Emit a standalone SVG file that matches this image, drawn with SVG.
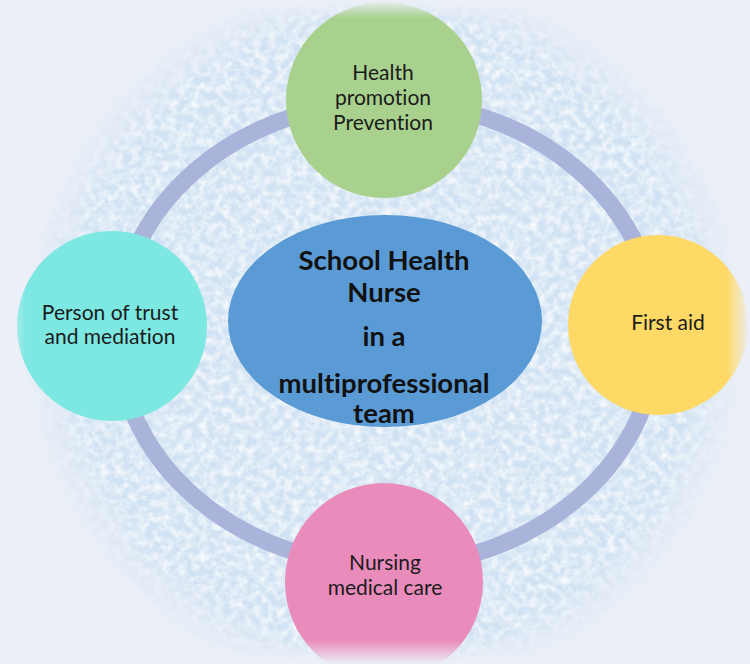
<svg xmlns="http://www.w3.org/2000/svg" width="750" height="664" viewBox="0 0 750 664">
  <defs>
    <style>
      .lbl { font-family: Lato, "Open Sans", "Liberation Sans", sans-serif; font-size: 21px; fill: #1b1b1b; text-anchor: middle; font-variant-ligatures: none; }
      .ctr { font-family: Lato, "Open Sans", "Liberation Sans", sans-serif; font-size: 27.5px; font-weight: bold; fill: #111; text-anchor: middle; font-variant-ligatures: none; }
      .ring { fill: none; stroke: #aab3da; stroke-width: 17; }
    </style>
    <radialGradient id="diskGrad" gradientUnits="userSpaceOnUse" cx="385" cy="335" r="362">
      <stop offset="0" stop-color="#d0e2f3" stop-opacity="1"/>
      <stop offset="0.86" stop-color="#d0e2f3" stop-opacity="1"/>
      <stop offset="1" stop-color="#d0e2f3" stop-opacity="0"/>
    </radialGradient>
    <filter id="tex" filterUnits="userSpaceOnUse" x="0" y="0" width="750" height="664">
      <feTurbulence type="fractalNoise" baseFrequency="0.13" numOctaves="3" seed="7" result="n"/>
      <feColorMatrix in="n" type="matrix" values="0 0 0 0 1  0 0 0 0 1  0 0 0 0 1  1.6 0 0 0 -0.55" result="w"/>
      <feComposite in="w" in2="SourceGraphic" operator="in" result="wc"/>
      <feMerge><feMergeNode in="SourceGraphic"/><feMergeNode in="wc"/></feMerge>
    </filter>
    <linearGradient id="fadeT" x1="0" y1="0" x2="0" y2="1">
      <stop offset="0" stop-color="#ebeff7" stop-opacity="1"/>
      <stop offset="1" stop-color="#ebeff7" stop-opacity="0"/>
    </linearGradient>
    <linearGradient id="fadeB" x1="0" y1="1" x2="0" y2="0">
      <stop offset="0" stop-color="#ebeff7" stop-opacity="1"/>
      <stop offset="1" stop-color="#ebeff7" stop-opacity="0"/>
    </linearGradient>
    <linearGradient id="fadeL" x1="0" y1="0" x2="1" y2="0">
      <stop offset="0" stop-color="#ebeff7" stop-opacity="1"/>
      <stop offset="1" stop-color="#ebeff7" stop-opacity="0"/>
    </linearGradient>
    <linearGradient id="fadeR" x1="1" y1="0" x2="0" y2="0">
      <stop offset="0" stop-color="#ebeff7" stop-opacity="1"/>
      <stop offset="1" stop-color="#ebeff7" stop-opacity="0"/>
    </linearGradient>
  </defs>

  <rect x="0" y="0" width="750" height="664" fill="#ebeff7"/>
  <circle id="backdrop" cx="385" cy="335" r="362" fill="url(#diskGrad)" filter="url(#tex)"/>

  <g id="connectors">
    <ellipse class="ring" cx="387" cy="334" rx="270" ry="232"/>
  </g>

  <g id="node-health-promotion">
    <circle cx="384" cy="100" r="98" fill="#a9d18e"/>
    <text class="lbl" x="383" y="80">Health</text>
    <text class="lbl" x="383" y="105">promotion</text>
    <text class="lbl" x="383" y="130">Prevention</text>
  </g>

  <g id="node-first-aid">
    <circle cx="658" cy="325" r="90" fill="#ffd966"/>
    <text class="lbl" x="668" y="330">First aid</text>
  </g>

  <g id="node-nursing">
    <circle cx="384" cy="582" r="99" fill="#e98bbb"/>
    <text class="lbl" x="385" y="570">Nursing</text>
    <text class="lbl" x="385" y="595">medical care</text>
  </g>

  <g id="node-trust">
    <circle cx="112" cy="326" r="95" fill="#7de8e2"/>
    <text class="lbl" x="110" y="320">Person of trust</text>
    <text class="lbl" x="110" y="344">and mediation</text>
  </g>

  <g id="node-center">
    <ellipse cx="385" cy="321" rx="157" ry="106" fill="#5b9bd5"/>
    <text class="ctr" x="384" y="270">School Health</text>
    <text class="ctr" x="384" y="302">Nurse</text>
    <text class="ctr" x="384" y="346">in a</text>
    <text class="ctr" x="384" y="393">multiprofessional</text>
    <text class="ctr" x="384" y="423">team</text>
  </g>

  <g id="edge-fade">
    <rect x="0" y="0" width="750" height="18" fill="url(#fadeT)"/>
    <rect x="0" y="640" width="750" height="24" fill="url(#fadeB)"/>
    <rect x="0" y="0" width="26" height="664" fill="url(#fadeL)"/>
    <rect x="726" y="0" width="24" height="664" fill="url(#fadeR)"/>
  </g>
</svg>
